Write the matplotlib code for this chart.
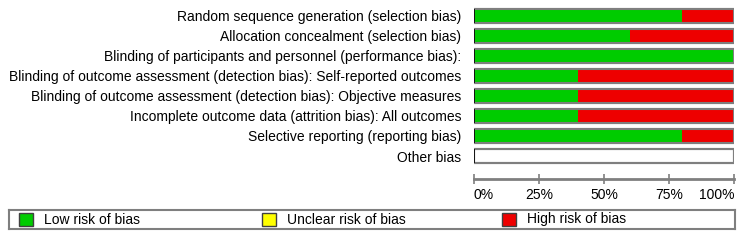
import numpy as np
import matplotlib.pyplot as plt
from matplotlib.patches import Rectangle

plt.rcParams['font.family'] = ['Liberation Sans', 'DejaVu Sans']

domains = [
    'Random sequence generation (selection bias)',
    'Allocation concealment (selection bias)',
    'Blinding of participants and personnel (performance bias):',
    'Blinding of outcome assessment (detection bias): Self-reported outcomes',
    'Blinding of outcome assessment (detection bias): Objective measures',
    'Incomplete outcome data (attrition bias): All outcomes',
    'Selective reporting (reporting bias)',
    'Other bias',
]
low = [80, 60, 100, 40, 40, 40, 80, 0]
unclear = [0, 0, 0, 0, 0, 0, 0, 0]
high = [20, 40, 0, 60, 60, 60, 20, 0]

ticks = [0, 25, 50, 75, 100]
tick_labels = ['0%', '25%', '50%', '75%', '100%']

legend_labels = ['Low risk of bias', 'Unclear risk of bias', 'High risk of bias']
green = '#00cc00'
yellow = '#ffff00'
red = '#ee0000'
colors = [green, yellow, red]
edge = '#7f7f7f'

fig = plt.figure(figsize=(7.44, 2.5), dpi=100)
ax = fig.add_axes([474 / 744, 1 - 179 / 250, 260 / 744, 173 / 250])

y = np.arange(len(domains))
low = np.array(low)
unclear = np.array(unclear)
high = np.array(high)

# white background bar with gray frame for every row
ax.barh(y, 100, height=0.7, color='white', edgecolor=edge, linewidth=1.5, zorder=1)
ax.barh(y, low, height=0.7, color=green, edgecolor='none', zorder=2)
ax.barh(y, unclear, left=low, height=0.7, color=yellow, edgecolor='none', zorder=2)
ax.barh(y, high, left=low + unclear, height=0.7, color=red, edgecolor='none', zorder=2)
ax.barh(y, 100, height=0.7, color='none', edgecolor=edge, linewidth=1.5, zorder=3)
ax.vlines(np.zeros(len(y)), y - 0.33, y + 0.33, color='black', linewidth=1.2, zorder=4)

ax.set_xlim(0, 100)
ax.set_ylim(len(domains) - 1 + 1.15, -0.5)
ax.set_yticks(y)
ax.set_yticklabels(domains, fontsize=10)
ax.tick_params(axis='y', length=0, pad=9)
ax.set_xticks(ticks)
ax.set_xticklabels(tick_labels, fontsize=10)
ax.tick_params(axis='x', direction='inout', length=7, width=1.2, color=edge, pad=3)
labels = ax.get_xticklabels()
labels[0].set_horizontalalignment('left')
labels[-1].set_horizontalalignment('right')
for s in ['top', 'left', 'right']:
    ax.spines[s].set_visible(False)
ax.spines['bottom'].set_color(edge)
ax.spines['bottom'].set_linewidth(2)

# legend box
lax = fig.add_axes([9 / 744, 1 - 229 / 250, 726 / 744, 19 / 250])
lax.set_xlim(9, 735)
lax.set_ylim(0, 19)
lax.set_xticks([])
lax.set_yticks([])
for s in lax.spines.values():
    s.set_color(edge)
    s.set_linewidth(1.5)
starts = [19, 262, 502]
for x0, c, lab in zip(starts, colors, legend_labels):
    lax.add_patch(Rectangle((x0, 3), 14, 13, facecolor=c, edgecolor='#404040', linewidth=1))
    lax.text(x0 + 25, 9.5, lab, fontsize=10, va='center', ha='left')

fig.savefig('out.png', dpi=100)
